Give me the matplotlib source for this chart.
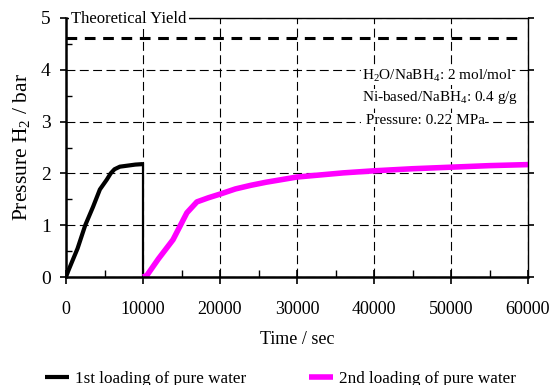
import numpy as np
import matplotlib.pyplot as plt
from matplotlib.ticker import MultipleLocator

plt.rcParams['font.family'] = ['Liberation Serif', 'DejaVu Serif']
plt.rcParams['mathtext.fontset'] = 'custom'
plt.rcParams['mathtext.rm'] = 'Liberation Serif'

# first loading: time (s) and H2 pressure (bar)
t1 = [0, 300, 800, 1500, 2500, 3500, 4400, 5300, 5800, 6300, 7000, 8000, 9000, 10000]
p1 = [0, 0.12, 0.30, 0.55, 1.00, 1.35, 1.69, 1.88, 2.00, 2.08, 2.13, 2.15, 2.17, 2.18]
# pressure released before second loading
t_drop = [10000, 10000]
p_drop = [2.18, 0]

# second loading
t2 = [10000, 10500, 12000, 13900, 15700, 17000, 18500, 20000, 22000, 24000, 26000,
      28000, 30000, 33000, 36000, 40000, 45000, 50000, 55000, 60000]
p2 = [0, 0.03, 0.35, 0.72, 1.24, 1.45, 1.53, 1.60, 1.70, 1.77, 1.83,
      1.88, 1.93, 1.97, 2.01, 2.05, 2.09, 2.12, 2.15, 2.17]

theoretical_yield = 4.61
conditions = ["H$_2$O/NaBH$_4$: 2 mol/mol",
              "Ni-based/NaBH$_4$: 0.4 g/g",
              " Pressure: 0.22 MPa"]

fig = plt.figure(figsize=(5.54, 3.85), dpi=100)
ax = fig.add_axes([66/554, 1 - 277/385, 462/554, 259/385])

ax.grid(True, which='major', color='black', linestyle=(0, (8, 4)), linewidth=0.8)
ax.set_axisbelow(True)

l1, = ax.plot(t1, p1, color='black', lw=3, solid_capstyle='butt',
              label='1st loading of pure water')
ax.plot(t_drop, p_drop, color='black', lw=1.6)
l2, = ax.plot(t2, p2, color='#ff00ff', lw=4, solid_capstyle='butt',
              label='2nd loading of pure water')
ax.axhline(theoretical_yield, xmin=0, xmax=0.99, color='black', lw=2.2,
           linestyle=(0, (3.5, 2.5)))

ax.set_xlim(0, 60000)
ax.set_ylim(0, 5)
ax.xaxis.set_major_locator(MultipleLocator(10000))
ax.xaxis.set_minor_locator(MultipleLocator(5000))
ax.yaxis.set_major_locator(MultipleLocator(1))
ax.yaxis.set_minor_locator(MultipleLocator(0.5))

ax.tick_params(axis='x', which='major', direction='inout', length=10, width=1.2,
               labelsize=13, pad=12)
ax.tick_params(axis='x', which='minor', direction='in', length=5, width=1)
ax.tick_params(axis='y', which='major', direction='out', length=4, width=1.2,
               labelsize=14, pad=7, right=True)
ax.tick_params(axis='y', which='minor', direction='in', length=4, width=1)

for side in ['left', 'bottom']:
    ax.spines[side].set_linewidth(1.8)
for side in ['top', 'right']:
    ax.spines[side].set_linewidth(1.0)

ax.set_xlabel('Time / sec', fontsize=13, labelpad=10)
ax.set_ylabel('Pressure H$_2$ / bar', fontsize=15.5, labelpad=6)

ax.text(700, 4.98, 'Theoretical Yield', fontsize=12, va='center', ha='left',
        bbox=dict(facecolor='white', edgecolor='none', pad=1.5))

for i, line in enumerate(conditions):
    ax.text(38400, 3.89 - i * 0.43, line, fontsize=11, va='center', ha='left',
            bbox=dict(facecolor='white', edgecolor='none', pad=0.5))

fig.legend(handles=[l1, l2], loc='center left', bbox_to_anchor=(45/554, 0.015),
           ncol=2, frameon=False, fontsize=12.3, handlelength=1.4,
           handletextpad=0.35, columnspacing=3.7, borderpad=0, borderaxespad=0)

fig.savefig('out.png', dpi=100)
